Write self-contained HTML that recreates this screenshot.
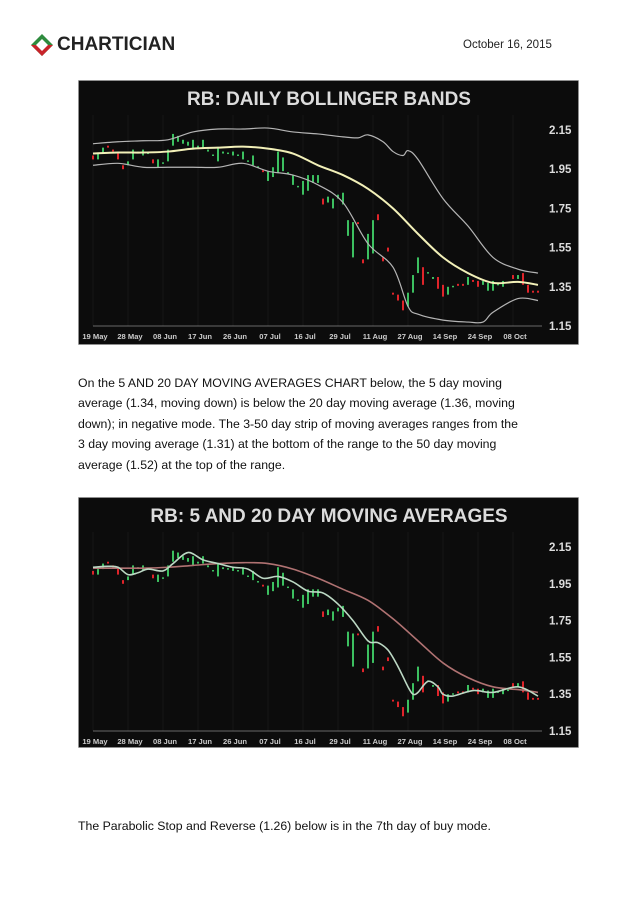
<!DOCTYPE html>
<html><head><meta charset="utf-8"><style>
body{margin:0;background:#fff;width:638px;height:903px;position:relative;overflow:hidden;font-family:"Liberation Sans",sans-serif;}
.abs{position:absolute;}
p.t{position:absolute;left:78px;margin:0;font-size:12.3px;line-height:20.4px;color:#111;width:500px;}
svg text{font-family:"Liberation Sans",sans-serif;}
</style></head><body>
<div class="abs" style="left:30px;top:33px;width:170px;height:24px;">
<svg width="24" height="24" viewBox="0 0 24 24" style="position:absolute;left:0;top:0">
<polygon points="12,1 23,12 12,23 1,12" fill="#2e8b3e"/><polygon points="1,12 23,12 12,23" fill="#c8232a"/><polygon points="12,6 18,12 12,18 6,12" fill="#fff"/></svg>
<span style="position:absolute;left:27px;top:1px;font-size:19px;font-weight:bold;color:#222;letter-spacing:0px;">CHARTICIAN</span>
</div>
<div class="abs" style="left:463px;top:39px;font-size:11.5px;color:#222;">October 16, 2015</div>

<svg id="c1" class="abs" style="left:78px;top:80px" width="501" height="265"></svg>

<p class="t" style="top:373px">On the 5 AND 20 DAY MOVING AVERAGES CHART below, the 5 day moving<br>average (1.34, moving down) is below the 20 day moving average (1.36, moving<br>down); in negative mode. The 3-50 day strip of moving averages ranges from the<br>3 day moving average (1.31) at the bottom of the range to the 50 day moving<br>average (1.52) at the top of the range.</p>

<svg id="c2" class="abs" style="left:78px;top:497px" width="501" height="251"></svg>

<p class="t" style="top:816px">The Parabolic Stop and Reverse (1.26) below is in the 7th day of buy mode.</p>

<script>
const opens=[2.02,2.00,2.03,2.07,2.05,2.03,1.97,1.97,2.00,2.03,2.02,2.03,2.00,1.96,1.98,1.99,2.07,2.09,2.08,2.07,2.05,2.06,2.06,2.04,2.02,1.99,2.03,2.03,2.02,2.02,2.00,1.99,1.97,1.96,1.945,1.89,1.91,1.93,1.94,1.93,1.87,1.86,1.82,1.84,1.88,1.88,1.80,1.78,1.75,1.80,1.77,1.61,1.50,1.68,1.49,1.49,1.52,1.72,1.50,1.55,1.32,1.31,1.28,1.25,1.32,1.42,1.45,1.42,1.39,1.40,1.36,1.31,1.35,1.365,1.365,1.36,1.385,1.38,1.36,1.33,1.33,1.36,1.35,1.37,1.41,1.39,1.42,1.36,1.33,1.33];
const closes=[2.00,2.03,2.06,2.06,2.04,2.00,1.95,1.99,2.05,2.04,2.05,2.035,1.98,2.00,1.985,2.05,2.13,2.12,2.10,2.09,2.10,2.07,2.10,2.05,2.025,2.06,2.04,2.035,2.04,2.025,2.04,1.995,2.02,1.965,1.935,1.94,1.96,2.04,2.01,1.935,1.92,1.865,1.89,1.92,1.92,1.92,1.77,1.81,1.80,1.82,1.83,1.69,1.68,1.67,1.47,1.62,1.69,1.69,1.48,1.53,1.31,1.28,1.23,1.32,1.41,1.50,1.36,1.425,1.40,1.34,1.30,1.35,1.355,1.355,1.355,1.40,1.375,1.35,1.38,1.37,1.38,1.365,1.38,1.375,1.39,1.41,1.36,1.32,1.32,1.32];
const xLabels=["19 May","28 May","08 Jun","17 Jun","26 Jun","07 Jul","16 Jul","29 Jul","11 Aug","27 Aug","14 Sep","24 Sep","08 Oct"];
const yTicks=[2.15,1.95,1.75,1.55,1.35,1.15];
const midIdx=[0,5,10,15,20,25,30,35,40,45,50,55,60,65,70,75,80,85,89];
const midVals=[2.03,2.035,2.035,2.04,2.055,2.06,2.065,2.055,2.03,1.97,1.92,1.85,1.75,1.62,1.50,1.42,1.37,1.375,1.36];
const upIdx=[0,5,10,15,20,25,30,35,40,45,50,53,55,58,60,62,63,65,70,75,80,85,89];
const upVals=[2.08,2.09,2.095,2.10,2.14,2.155,2.155,2.16,2.14,2.13,2.115,2.11,2.125,2.09,2.04,2.02,2.045,2.0,1.80,1.66,1.50,1.44,1.42];
const loIdx=[0,5,10,15,20,25,30,35,40,45,50,55,60,63,65,70,75,78,80,85,89];
const loVals=[1.97,1.98,1.96,1.96,1.96,1.96,1.98,1.94,1.92,1.87,1.78,1.57,1.45,1.25,1.21,1.18,1.17,1.17,1.22,1.29,1.28];
const ma5Idx=[0,3,5,7,9,11,14,16,19,22,25,28,31,34,37,40,43,46,49,52,55,57,59,61,63,64,65,67,69,70,72,76,80,85,89];
const ma5Vals=[2.04,2.045,2.04,2.00,2.01,2.03,2.02,2.06,2.12,2.08,2.06,2.04,2.03,1.98,1.99,1.96,1.91,1.90,1.84,1.75,1.64,1.63,1.59,1.50,1.39,1.35,1.36,1.42,1.39,1.35,1.34,1.37,1.36,1.39,1.34];
const ma20Idx=midIdx;
const ma20Vals=[2.035,2.035,2.035,2.04,2.05,2.06,2.065,2.06,2.03,1.98,1.92,1.86,1.76,1.64,1.52,1.44,1.39,1.375,1.36];

const NS="http://www.w3.org/2000/svg";
function mk(svg,tag,attrs){const e=document.createElementNS(NS,tag);for(const k in attrs)e.setAttribute(k,attrs[k]);svg.appendChild(e);return e;}
function smoothPath(pts){let d="M"+pts[0][0]+","+pts[0][1];for(let i=0;i<pts.length-1;i++){const p0=pts[Math.max(0,i-1)],p1=pts[i],p2=pts[i+1],p3=pts[Math.min(pts.length-1,i+2)];const c1x=p1[0]+(p2[0]-p0[0])/6,c1y=p1[1]+(p2[1]-p0[1])/6,c2x=p2[0]-(p3[0]-p1[0])/6,c2y=p2[1]-(p3[1]-p1[1])/6;d+=" C"+c1x+","+c1y+" "+c2x+","+c2y+" "+p2[0]+","+p2[1];}return d;}
function draw(id,title,y0,y1,H,lines){
 const svg=document.getElementById(id);const W=501;
 const x=i=>15+i*5; const y=p=>y0+(2.15-p)/(2.15-1.15)*(y1-y0);
 const bg=mk(svg,"rect",{x:0,y:0,width:W,height:H,fill:"#0c0c0c",stroke:"#bbb","stroke-width":1.5});
 
 const t=mk(svg,"text",{x:251,y:25,"text-anchor":"middle","font-size":19,"font-weight":"bold",fill:"#dcdcdc"});t.textContent=title;
 
 xLabels.forEach((l,k)=>{const xi=x(k*7);
  const g=mk(svg,"line",{x1:xi,x2:xi,y1:y0-15,y2:y1,stroke:"#1f1f1f","stroke-width":0.6});
  
  const tl=mk(svg,"text",{x:xi+2,y:y1+13,"text-anchor":"middle","font-size":7.6,"font-weight":"bold",fill:"#ccc"});tl.textContent=l;
  });
 const ax=mk(svg,"line",{x1:x(0),x2:x(89)+4,y1:y1,y2:y1,stroke:"#888","stroke-width":0.8});
 
 yTicks.forEach(v=>{const tl=mk(svg,"text",{x:471,y:y(v)+4,"font-size":11.5,"font-weight":"bold",fill:"#ddd"});tl.textContent=v.toFixed(2);
  });
 opens.forEach((o,i)=>{const c=closes[i];const top=y(Math.max(o,c)),bot=y(Math.min(o,c));
  const r=mk(svg,"rect",{x:x(i)-1,y:top,width:2,height:Math.max(1.5,bot-top),fill:c>=o?"#3cc060":"#e0242a"});
  });
 lines.forEach(L=>{const pts=L.idx.map((ix,k)=>[x(ix),y(L.vals[k])]);
  const p=mk(svg,"path",{d:smoothPath(pts),fill:"none",stroke:L.color,"stroke-width":L.w});
  });
}
draw("c1","RB: DAILY BOLLINGER BANDS",50,246,265,[
 {idx:upIdx,vals:upVals,color:"#b5b5b5",w:1.2,name:"upper-band"},
 {idx:loIdx,vals:loVals,color:"#b5b5b5",w:1.2,name:"lower-band"},
 {idx:midIdx,vals:midVals,color:"#f2f0b8",w:2,name:"middle-band"}]);
draw("c2","RB: 5 AND 20 DAY MOVING AVERAGES",50,234,251,[
 {idx:ma20Idx,vals:ma20Vals,color:"#b07272",w:1.6,name:"ma20-line"},
 {idx:ma5Idx,vals:ma5Vals,color:"#bcd8c4",w:1.6,name:"ma5-line"}]);
</script>
</body></html>
